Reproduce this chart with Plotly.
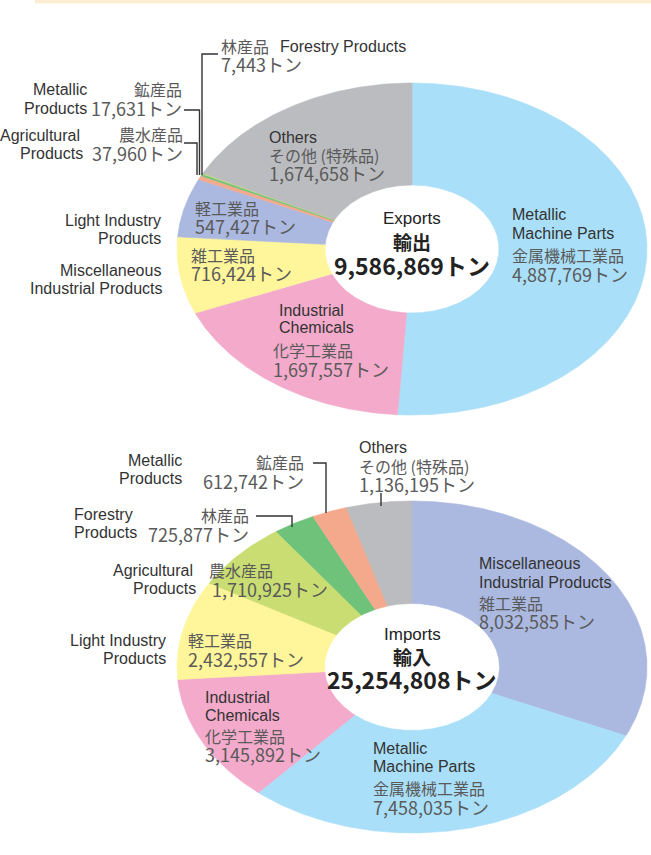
import numpy as np
import plotly.graph_objects as go

# ---------------- data ----------------
exp_en = ["Metallic Machine Parts", "Industrial Chemicals", "Miscellaneous Industrial Products",
          "Light Industry Products", "Agricultural Products", "Metallic Products",
          "Forestry Products", "Others"]
exp_ja = ["金属機械工業品", "化学工業品", "雑工業品", "軽工業品", "農水産品", "鉱産品", "林産品", "その他 (特殊品)"]
exp_values = [4887769, 1697557, 716424, 547427, 37960, 17631, 7443, 1674658]
exp_colors = ["#a9dff8", "#f3aacb", "#fff59b", "#abb9e0", "#f5a98c", "#6fc27a", "#c9dd72", "#bbbcc0"]
exp_total = 9586869

imp_en = ["Miscellaneous Industrial Products", "Metallic Machine Parts", "Industrial Chemicals",
          "Light Industry Products", "Agricultural Products", "Forestry Products",
          "Metallic Products", "Others"]
imp_ja = ["雑工業品", "金属機械工業品", "化学工業品", "軽工業品", "農水産品", "林産品", "鉱産品", "その他 (特殊品)"]
imp_values = [8032585, 7458035, 3145892, 2432557, 1710925, 725877, 612742, 1136195]
imp_colors = ["#abb9e0", "#a9dff8", "#f3aacb", "#fff59b", "#c9dd72", "#6fc27a", "#f5a98c", "#bbbcc0"]
imp_total = 25254808

EN_FONT = "Liberation Sans, Arial"
JA_FONT = "Noto Sans CJK JP"
EN_COL = "#333333"
JA_COL = "#5a5a5a"

fig = go.Figure()


def donut(values, colors, cx, cy, rx, ry, hole_rx, hole_ry):
    total = float(sum(values))
    cum = np.concatenate([[0.0], np.cumsum(values)]) / total * 2 * np.pi
    for i, c in enumerate(colors):
        a0, a1 = cum[i], cum[i + 1]
        n = max(3, int((a1 - a0) / (2 * np.pi) * 720) + 2)
        t = np.linspace(a0, a1, n)
        xo = cx + rx * np.sin(t)
        yo = cy - ry * np.cos(t)
        xi = cx + hole_rx * np.sin(t[::-1])
        yi = cy - hole_ry * np.cos(t[::-1])
        fig.add_trace(go.Scatter(
            x=np.concatenate([xo, xi, xo[:1]]), y=np.concatenate([yo, yi, yo[:1]]),
            mode="lines", fill="toself", fillcolor=c,
            line=dict(color=c, width=0.6), hoverinfo="skip", showlegend=False))


donut(exp_values, exp_colors, 412, 249, 235, 166, 87, 64)
donut(imp_values, imp_colors, 412, 667, 235, 166, 87.5, 63.5)

annotations = []

STYLE = {
    "en": (EN_FONT, 16, EN_COL),
    "ja": (JA_FONT, 16, JA_COL),
    "num": (JA_FONT, 18, JA_COL),
    "ctitle": (EN_FONT, 17, "#222222"),
    "cja": (JA_FONT, 19, "#222222"),
    "cnum": (JA_FONT, 23, "#222222"),
}


def txt(x, y, s, kind, anchor="left"):
    fam, size, col = STYLE[kind]
    if kind in ("cja", "cnum"):
        s = f"<b>{s}</b>"
    annotations.append(dict(x=x, y=y, xref="x", yref="y", text=s, showarrow=False,
                            xanchor=anchor, yanchor="middle", borderpad=0,
                            font=dict(family=fam, size=size, color=col)))


def num(v):
    return f"{v:,}トン"


# ---- Exports labels ----
txt(412, 218, "Exports", "ctitle", "center")
txt(412, 241, "輸出", "cja", "center")
txt(412, 265, num(exp_total), "cnum", "center")

txt(511, 214, "Metallic", "en"); txt(511, 233, "Machine Parts", "en")
txt(511, 255, exp_ja[0], "ja"); txt(511, 274, num(exp_values[0]), "num")

txt(278, 310, "Industrial", "en"); txt(278, 327, "Chemicals", "en")
txt(272, 350, exp_ja[1], "ja"); txt(272, 369, num(exp_values[1]), "num")

txt(190, 255, exp_ja[2], "ja"); txt(190, 273, num(exp_values[2]), "num")
txt(162, 270, "Miscellaneous", "en", "right"); txt(164, 288, "Industrial Products", "en", "right")

txt(194, 208, exp_ja[3], "ja"); txt(194, 226, num(exp_values[3]), "num")
txt(162, 220, "Light Industry", "en", "right"); txt(162, 238, "Products", "en", "right")

txt(184, 134, exp_ja[4], "ja", "right"); txt(184, 153, num(exp_values[4]), "num", "right")
txt(81, 135, "Agricultural", "en", "right"); txt(84, 153, "Products", "en", "right")

txt(183, 89, exp_ja[5], "ja", "right"); txt(183, 108, num(exp_values[5]), "num", "right")
txt(88, 89, "Metallic", "en", "right"); txt(88, 108, "Products", "en", "right")

txt(220, 46, exp_ja[6], "ja"); txt(279, 46, "Forestry Products", "en")
txt(220, 64, num(exp_values[6]), "num")

txt(268, 137, "Others", "en"); txt(268, 155, exp_ja[7], "ja"); txt(268, 173, num(exp_values[7]), "num")

# ---- Imports labels ----
txt(412, 634, "Imports", "ctitle", "center")
txt(412, 656, "輸入", "cja", "center")
txt(412, 679, num(imp_total), "cnum", "center")

txt(478, 563, "Miscellaneous", "en"); txt(478, 582, "Industrial Products", "en")
txt(478, 603, imp_ja[0], "ja"); txt(478, 621, num(imp_values[0]), "num")

txt(372, 748, "Metallic", "en"); txt(372, 766, "Machine Parts", "en")
txt(372, 788, imp_ja[1], "ja"); txt(372, 807, num(imp_values[1]), "num")

txt(204, 697, "Industrial", "en"); txt(204, 715, "Chemicals", "en")
txt(204, 736, imp_ja[2], "ja"); txt(204, 754, num(imp_values[2]), "num")

txt(187, 640, imp_ja[3], "ja"); txt(187, 659, num(imp_values[3]), "num")
txt(167, 640, "Light Industry", "en", "right"); txt(167, 658, "Products", "en", "right")

txt(208, 570, imp_ja[4], "ja"); txt(211, 589, num(imp_values[4]), "num")
txt(194, 570, "Agricultural", "en", "right"); txt(197, 588, "Products", "en", "right")

txt(250, 515, imp_ja[5], "ja", "right"); txt(250, 534, num(imp_values[5]), "num", "right")
txt(73, 514, "Forestry", "en"); txt(73, 532, "Products", "en")

txt(305, 462, imp_ja[6], "ja", "right"); txt(305, 481, num(imp_values[6]), "num", "right")
txt(183, 460, "Metallic", "en", "right"); txt(183, 478, "Products", "en", "right")

txt(358, 447, "Others", "en"); txt(358, 466, imp_ja[7], "ja"); txt(358, 484, num(imp_values[7]), "num")

# ---- leader lines & decoration ----
line_style = dict(color="#333333", width=1.4)
paths = [
    "M 202,175 L 202,54 L 218,54",
    "M 199.5,175 L 199.5,110 L 184,110",
    "M 197,175 L 197,143 L 184,143",
    "M 326,513 L 326,463 L 313,463",
    "M 292,527 L 292,516 L 256,516",
    "M 381,506 L 381,493",
]
shapes = [dict(type="path", path=p, xref="x", yref="y", line=line_style) for p in paths]
shapes.append(dict(type="rect", xref="x", yref="y", x0=35, x1=651, y0=0, y1=3.5,
                   fillcolor="#fdeed3", line=dict(width=0), layer="below"))

fig.update_layout(
    width=651, height=855,
    margin=dict(l=0, r=0, t=0, b=0),
    paper_bgcolor="white", plot_bgcolor="white",
    xaxis=dict(range=[0, 651], visible=False, fixedrange=True),
    yaxis=dict(range=[855, 0], visible=False, fixedrange=True),
    annotations=annotations, shapes=shapes,
    showlegend=False,
)

fig.write_html("out.html", config={"displayModeBar": False},
               post_script="document.body.style.margin='0';document.body.style.padding='0';")
